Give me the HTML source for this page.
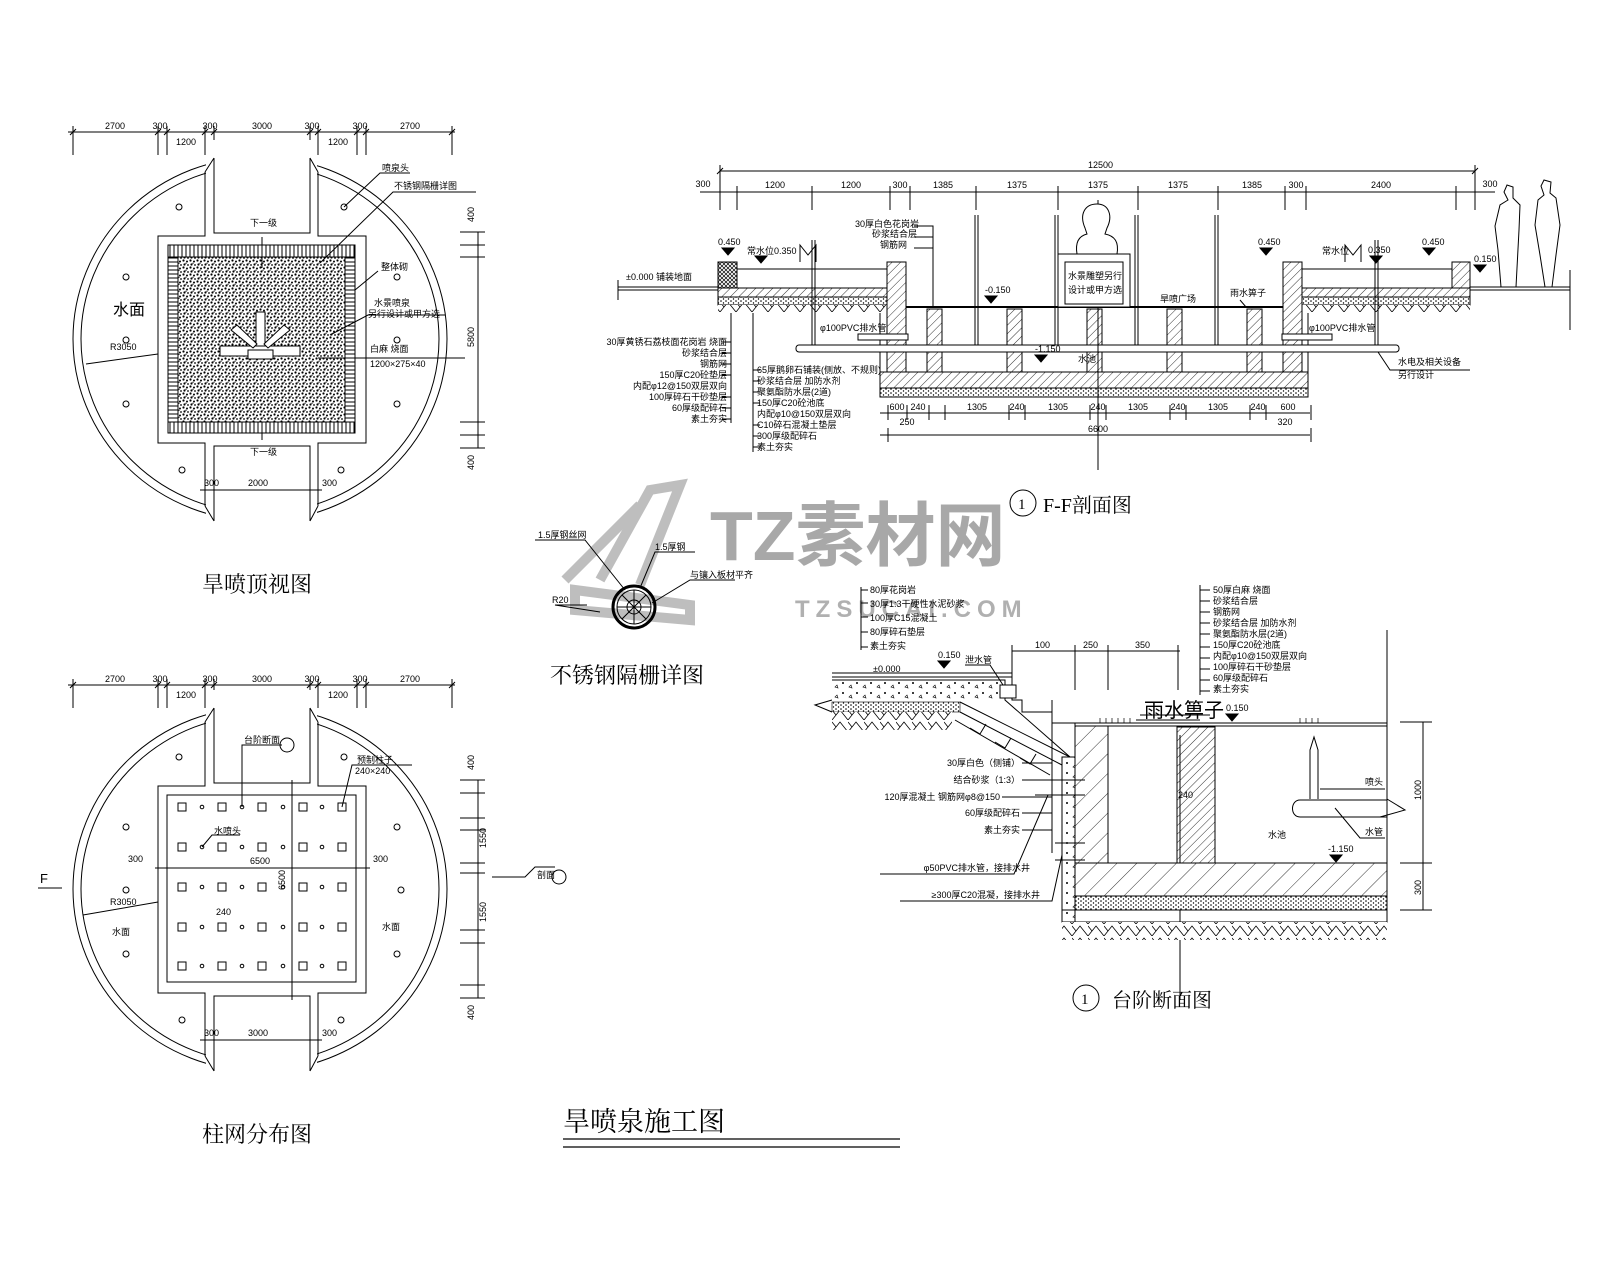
<!DOCTYPE html>
<html><head><meta charset="utf-8"><style>
html,body{margin:0;padding:0;background:#fff;}
svg{display:block;}
text{font-family:"Liberation Sans","Noto Sans CJK SC",sans-serif;fill:#000;}
.s{font-size:9px;}
.t{font-family:"Liberation Serif","Noto Serif CJK SC",serif;}
</style></head><body>
<svg width="1600" height="1280" viewBox="0 0 1600 1280" xmlns="http://www.w3.org/2000/svg" fill="none" stroke="#000" stroke-width="1">
<defs>
<pattern id="grav" width="7" height="7" patternUnits="userSpaceOnUse">
<rect width="7" height="7" fill="#fff" stroke="none"/>
<circle cx="1.5" cy="1.5" r="1.1" fill="#000" stroke="none"/><circle cx="5" cy="2.5" r="1" fill="#000" stroke="none"/>
<circle cx="2.5" cy="5.5" r="1.1" fill="#000" stroke="none"/><circle cx="6" cy="6" r=".9" fill="#000" stroke="none"/>
<circle cx="4" cy="4.2" r=".6" fill="#000" stroke="none"/>
</pattern>
<pattern id="vl" width="4" height="4" patternUnits="userSpaceOnUse"><rect width="4" height="4" fill="#fff" stroke="none"/><line x1="2" y1="0" x2="2" y2="4" stroke="#000"/></pattern>
<pattern id="hl" width="4" height="4" patternUnits="userSpaceOnUse"><rect width="4" height="4" fill="#fff" stroke="none"/><line x1="0" y1="2" x2="4" y2="2" stroke="#000"/></pattern>
<pattern id="hat" width="6" height="6" patternUnits="userSpaceOnUse" patternTransform="rotate(45)"><rect width="6" height="6" fill="#fff" stroke="none"/><line x1="0" y1="0" x2="0" y2="6" stroke="#000" stroke-width="0.8"/></pattern>
<pattern id="hat2" width="14" height="14" patternUnits="userSpaceOnUse" patternTransform="rotate(45)"><rect width="14" height="14" fill="#fff" stroke="none"/><line x1="0" y1="0" x2="0" y2="14" stroke="#000" stroke-width="0.8"/></pattern>
<pattern id="xh" width="4" height="4" patternUnits="userSpaceOnUse"><rect width="4" height="4" fill="#fff" stroke="none"/><path d="M0 0L4 4M4 0L0 4" stroke="#000" stroke-width="0.7"/></pattern>
<pattern id="soil" width="16" height="12" patternUnits="userSpaceOnUse"><rect width="16" height="12" fill="#fff" stroke="none"/><path d="M0 12L8 2L16 12M0 2L4 7" stroke="#000" stroke-width="0.8"/></pattern>
<pattern id="conc" width="14" height="10" patternUnits="userSpaceOnUse"><rect width="14" height="10" fill="#fff" stroke="none"/><circle cx="3" cy="3" r="1" fill="#000" stroke="none"/><path d="M9 7l2-2l1 3z" stroke="#000" stroke-width="0.6"/></pattern>
<pattern id="fine" width="5" height="4" patternUnits="userSpaceOnUse"><rect width="5" height="4" fill="#fff" stroke="none"/><circle cx="1" cy="1" r=".8" fill="#000" stroke="none"/><circle cx="3.5" cy="3" r=".7" fill="#000" stroke="none"/></pattern>
</defs>

<!-- ============ TOP PLAN 旱喷顶视图 ============ -->
<g id="plan1">
<line x1="68" y1="132" x2="455" y2="132"/>
<g stroke-width="1">
<path d="M73 126V155M158 126V155M167 126V155M205 126V155M214 126V155M310 126V155M318 126V155M357 126V155M366 126V155M452 126V155"/>
<path d="M70 135l6-6M155 135l6-6M164 135l6-6M202 135l6-6M211 135l6-6M307 135l6-6M315 135l6-6M354 135l6-6M363 135l6-6M449 135l6-6"/>
</g>
<g class="s" text-anchor="middle" stroke="none">
<text x="115" y="129">2700</text><text x="160" y="129">300</text><text x="210" y="129">300</text><text x="262" y="129">3000</text><text x="312" y="129">300</text><text x="360" y="129">300</text><text x="410" y="129">2700</text>
<text x="186" y="145">1200</text><text x="338" y="145">1200</text>
</g>
<ellipse cx="260" cy="339" rx="187" ry="182"/>
<ellipse cx="260" cy="339" rx="179" ry="174"/>
<rect x="206" y="140" width="111" height="96" fill="#fff" stroke="none"/>
<rect x="206" y="443" width="111" height="96" fill="#fff" stroke="none"/>
<path d="M214 158V233H310V158M205 172V236H158V443H205V506M214 521V446H310V521M318 506V443H366V236H318V172"/>
<path d="M205 172L214 158M318 172L310 158M205 506L214 521M318 506L310 521"/>
<rect x="168" y="245" width="187" height="188" fill="url(#vl)"/>
<rect x="178" y="257" width="167" height="165" fill="url(#grav)" stroke="#000"/>
<rect x="168" y="257" width="10" height="165" fill="url(#hl)"/>
<rect x="345" y="257" width="10" height="165" fill="url(#hl)"/>
<g fill="#fff">
<rect x="220" y="346" width="80" height="10"/><rect x="248" y="350" width="25" height="9"/>
<rect x="256" y="312" width="9" height="34"/>
<path d="M231 330l22 18l4-4l-20-19zM290 330l-22 18l-4-4l20-19z"/>
</g>
<g>
<circle cx="179" cy="207" r="3"/><circle cx="126" cy="277" r="3"/><circle cx="126" cy="340" r="3"/><circle cx="126" cy="404" r="3"/><circle cx="182" cy="470" r="3"/>
<circle cx="344" cy="207" r="3"/><circle cx="397" cy="277" r="3"/><circle cx="397" cy="340" r="3"/><circle cx="397" cy="404" r="3"/><circle cx="341" cy="470" r="3"/>
</g>
<path d="M344 207L380 173H410M320 263L393 192H476M355 290L378 271M330 335L368 315H445M318 358L465 358M262 237V268M262 440V422M158 354L86 364"/>
<g class="s" stroke="none">
<text x="382" y="171">喷泉头</text><text x="394" y="189">不锈钢隔栅详图</text><text x="381" y="270">整体砌</text>
<text x="374" y="306">水景喷泉</text><text x="368" y="317">另行设计或甲方选</text>
<text x="370" y="352">白麻 烧面</text><text x="370" y="367">1200×275×40</text>
<text x="250" y="226">下一级</text><text x="250" y="455">下一级</text>
<text x="110" y="350">R3050</text>
</g>
<text x="113" y="315" style="font-size:16px" stroke="none">水面</text>
<path d="M478 232V448M460 232H485M460 245H485M460 257H485M460 422H485M460 435H485M460 448H485"/>
<g class="s" stroke="none">
<text transform="translate(474 347) rotate(-90)">5800</text>
<text transform="translate(474 222) rotate(-90)">400</text>
<text transform="translate(474 470) rotate(-90)">400</text>
<text x="204" y="486">300</text><text x="248" y="486">2000</text><text x="322" y="486">300</text>
</g>
<path d="M200 490H322M205 486V495M214 486V495M310 486V495M318 486V495"/>
<text x="202" y="592" class="t" style="font-size:22px" stroke="none">旱喷顶视图</text>
</g>

<!-- ============ BOTTOM PLAN 柱网分布图 ============ -->
<g id="plan2">
<line x1="68" y1="685" x2="455" y2="685"/>
<path d="M73 679V708M158 679V708M167 679V708M205 679V708M214 679V708M310 679V708M318 679V708M357 679V708M366 679V708M452 679V708"/>
<path d="M70 688l6-6M155 688l6-6M164 688l6-6M202 688l6-6M211 688l6-6M307 688l6-6M315 688l6-6M354 688l6-6M363 688l6-6M449 688l6-6"/>
<g class="s" text-anchor="middle" stroke="none">
<text x="115" y="682">2700</text><text x="160" y="682">300</text><text x="210" y="682">300</text><text x="262" y="682">3000</text><text x="312" y="682">300</text><text x="360" y="682">300</text><text x="410" y="682">2700</text>
<text x="186" y="698">1200</text><text x="338" y="698">1200</text>
</g>
<ellipse cx="260" cy="889" rx="187" ry="182"/>
<ellipse cx="260" cy="889" rx="179" ry="174"/>
<rect x="206" y="690" width="111" height="96" fill="#fff" stroke="none"/>
<rect x="206" y="993" width="111" height="96" fill="#fff" stroke="none"/>
<path d="M214 708V783H310V708M205 722V786H158V993H205V1056M214 1071V996H310V1071M318 1056V993H366V786H318V722"/>
<path d="M205 722L214 708M318 722L310 708M205 1056L214 1071M318 1056L310 1071"/>
<rect x="167" y="795" width="189" height="187"/>
<path d="M167 868H356M292 795V982M155 868H370M292 780V1000"/>
<g>
<g id="r1">
<rect x="178" y="803" width="8" height="8"/><circle cx="202" cy="807" r="1.8"/><rect x="218" y="803" width="8" height="8"/><circle cx="242" cy="807" r="1.8"/><rect x="258" y="803" width="8" height="8"/><circle cx="283" cy="807" r="1.8"/><rect x="299" y="803" width="8" height="8"/><circle cx="322" cy="807" r="1.8"/><rect x="338" y="803" width="8" height="8"/>
</g>
<use href="#r1" y="40"/><use href="#r1" y="80"/><use href="#r1" y="120"/><use href="#r1" y="159"/>
</g>
<g>
<circle cx="179" cy="757" r="3"/><circle cx="126" cy="827" r="3"/><circle cx="126" cy="890" r="3"/><circle cx="126" cy="954" r="3"/><circle cx="182" cy="1020" r="3"/>
<circle cx="344" cy="757" r="3"/><circle cx="397" cy="827" r="3"/><circle cx="401" cy="890" r="3"/><circle cx="397" cy="954" r="3"/><circle cx="341" cy="1020" r="3"/>
</g>
<path d="M242 807V745H282M342 807L352 765H412M202 847L212 835H240M158 902L83 915M38 888H62"/>
<circle cx="287" cy="745" r="7"/>
<g class="s" stroke="none">
<text x="244" y="743">台阶断面</text><text x="357" y="763">预制柱子</text><text x="355" y="774">240×240</text>
<text x="214" y="834">水喷头</text><text x="128" y="862">300</text><text x="250" y="864">6500</text><text x="373" y="862">300</text>
<text x="110" y="905">R3050</text><text x="112" y="935">水面</text><text x="382" y="930">水面</text>
<text x="216" y="915">240</text><text x="537" y="878">剖面</text>
<text transform="translate(285 890) rotate(-90)">6500</text>
<text x="204" y="1036">300</text><text x="248" y="1036">3000</text><text x="322" y="1036">300</text>
</g>
<text x="40" y="883" style="font-size:13px" stroke="none">F</text>
<path d="M492 877H525L535 867H555"/><circle cx="559" cy="877" r="7"/>
<path d="M478 780V998M460 780H485M460 793H485M460 818H485M460 830H485M460 863H485M460 873H485M460 930H485M460 943H485M460 985H485M460 998H485"/>
<g class="s" stroke="none">
<text transform="translate(474 770) rotate(-90)">400</text><text transform="translate(486 848) rotate(-90)">1550</text><text transform="translate(486 922) rotate(-90)">1550</text><text transform="translate(474 1020) rotate(-90)">400</text>
</g>
<path d="M200 1040H322M205 1036V1045M214 1036V1045M310 1036V1045M318 1036V1045"/>
<text x="202" y="1142" class="t" style="font-size:22px" stroke="none">柱网分布图</text>
</g>

<!-- ============ WATERMARK ============ -->
<g stroke="#b8b8b8" stroke-width="10" fill="none" opacity="0.9">
<path d="M575 590L690 605L690 620L575 610Z"/><path d="M600 580L650 490L680 485L640 585"/><path d="M565 580L640 505"/>
</g>
<text x="710" y="560" style="font-size:70px;font-weight:bold;fill:#a8a8a8" stroke="none">TZ素材网</text>
<text x="795" y="617" style="font-size:24px;font-weight:bold;fill:#b0b0b0;letter-spacing:6px" stroke="none">TZSUCAI.COM</text>

<!-- ============ GRILLE DETAIL ============ -->
<circle cx="634" cy="607" r="21" stroke-width="3"/>
<circle cx="634" cy="607" r="17"/><circle cx="634" cy="607" r="7"/>
<path d="M617 607H651M634 590V624M622 595L646 619M646 595L622 619"/>
<path d="M535 540H585L625 590M640 588L655 552H695M652 603L690 580H735M600 612L555 605H587"/>
<g class="s" stroke="none"><text x="538" y="538">1.5厚钢丝网</text><text x="655" y="550">1.5厚钢</text><text x="690" y="578">与镶入板材平齐</text><text x="552" y="603">R20</text></g>
<text x="550" y="683" class="t" style="font-size:22px" stroke="none">不锈钢隔栅详图</text>

<text x="563" y="1131" class="t" style="font-size:27px" stroke="none">旱喷泉施工图</text>
<path d="M563 1139H900M563 1147H900" stroke-width="1.3"/>

<!-- ============ F-F SECTION ============ -->
<g id="ff">
<path d="M720 171H1475M720 165V190M1475 165V190M717 174l6-6M1472 174l6-6"/>
<text x="1088" y="168" class="s" stroke="none">12500</text>
<path d="M700 192H1495"/>
<path d="M720 186V210M737 186V210M812 186V210M890 186V210M910 186V210M976 186V210M1058 186V210M1138 186V210M1218 186V210M1285 186V210M1306 186V210M1456 186V210M1475 186V210"/>
<g class="s" stroke="none" text-anchor="middle">
<text x="703" y="187">300</text><text x="775" y="188">1200</text><text x="851" y="188">1200</text><text x="900" y="188">300</text><text x="943" y="188">1385</text><text x="1017" y="188">1375</text><text x="1098" y="188">1375</text><text x="1178" y="188">1375</text><text x="1252" y="188">1385</text><text x="1296" y="188">300</text><text x="1381" y="188">2400</text><text x="1490" y="187">300</text>
</g>
<path d="M618 287H720M618 290H720M1470 287H1570M1470 290H1570"/>
<path d="M618 280V300M1570 270V330"/>
<rect x="718" y="262" width="19" height="26" fill="url(#xh)"/>
<path d="M737 269H887M737 288H887"/>
<rect x="718" y="288" width="169" height="9" fill="url(#hat)"/>
<rect x="718" y="297" width="169" height="8" fill="url(#fine)"/>
<rect x="718" y="305" width="169" height="8" fill="url(#soil)" stroke="none"/>
<rect x="1452" y="262" width="18" height="26" fill="url(#hat)"/>
<path d="M1302 269H1452M1302 288H1452"/>
<rect x="1302" y="288" width="168" height="9" fill="url(#hat)"/>
<rect x="1302" y="297" width="168" height="8" fill="url(#fine)"/>
<rect x="1302" y="305" width="168" height="8" fill="url(#soil)" stroke="none"/>
<rect x="880" y="372" width="428" height="16" fill="url(#hat)"/>
<rect x="880" y="388" width="428" height="9" fill="url(#fine)"/>
<path d="M880 313V397H1308V313M898 320V372H1290V320"/>
<rect x="887" y="262" width="19" height="110" fill="url(#hat)"/>
<rect x="1283" y="262" width="19" height="110" fill="url(#hat)"/>
<path d="M906 307H1283" stroke-width="2"/>
<g fill="url(#hat)"><rect x="927" y="309" width="15" height="63"/><rect x="1007" y="309" width="15" height="63"/><rect x="1087" y="309" width="15" height="63"/><rect x="1167" y="309" width="15" height="63"/><rect x="1247" y="309" width="15" height="63"/></g>
<rect x="796" y="345" width="603" height="7" rx="3" fill="#fff"/>
<path d="M975 215V345M978 215V345M1055 215V345M1058 215V345M1135 215V345M1138 215V345M1215 215V345M1218 215V345M812 240V345M815 240V345M1375 240V345M1378 240V345"/>
<path d="M1098 200V470"/>
<rect x="858" y="334" width="50" height="6" fill="#fff"/><rect x="1282" y="334" width="50" height="6" fill="#fff"/>
<rect x="1058" y="254" width="72" height="53" fill="#fff"/>
<path d="M1065 262h58v42h-58z"/>
<path d="M1085 228c-6-14 0-24 12-24c12 0 16 12 10 24l-2 6c10 2 14 8 12 20h-40c-2-12 2-18 10-20z" fill="#fff"/>
<g class="s" stroke="none"><text x="1068" y="279">水景雕塑另行</text><text x="1068" y="293">设计或甲方选</text></g>
<path d="M800 262V245L808 255L816 245V262M1345 262V245L1353 255L1361 245V262"/>
<g fill="#000"><path d="M722 248h12l-6 7zM755 256h12l-6 7zM985 296h12l-6 7zM1035 355h12l-6 7zM1260 248h12l-6 7zM1370 256h12l-6 7zM1423 248h12l-6 7zM1474 265h12l-6 7z"/></g>
<g class="s" stroke="none">
<text x="718" y="245">0.450</text><text x="747" y="254">常水位0.350</text><text x="985" y="293">-0.150</text><text x="1035" y="352">-1.150</text><text x="1078" y="362">水池</text>
<text x="1258" y="245">0.450</text><text x="1322" y="254">常水位</text><text x="1368" y="253">0.350</text><text x="1422" y="245">0.450</text><text x="1474" y="262">0.150</text>
<text x="626" y="280">±0.000 铺装地面</text><text x="1160" y="302">旱喷广场</text><text x="1230" y="296">雨水箅子</text>
<text x="820" y="331">φ100PVC排水管</text><text x="1309" y="331">φ100PVC排水管</text>
<text x="1398" y="365">水电及相关设备</text><text x="1398" y="378">另行设计</text>
<text x="855" y="227">30厚白色花岗岩</text><text x="872" y="237">砂浆结合层</text><text x="880" y="248">钢筋网</text>
</g>
<path d="M1378 352L1390 370H1470M1240 300L1246 307M914 226H933V307M914 237H933M914 248H933"/>
<path d="M731 313V423M753 313V452"/>
<g class="s" stroke="none" text-anchor="end">
<text x="727" y="345">30厚黄锈石荔枝面花岗岩 烧面</text><text x="727" y="356">砂浆结合层</text><text x="727" y="367">钢筋网</text><text x="727" y="378">150厚C20砼垫层</text><text x="727" y="389">内配φ12@150双层双向</text><text x="727" y="400">100厚碎石干砂垫层</text><text x="727" y="411">60厚级配碎石</text><text x="727" y="422">素土夯实</text>
</g>
<path d="M722 342H731M722 353H731M722 364H731M722 375H731M722 397H731M722 408H731M722 419H731"/>
<g class="s" stroke="none">
<text x="757" y="373">65厚鹅卵石铺装(侧放、不规则)</text><text x="757" y="384">砂浆结合层 加防水剂</text><text x="757" y="395">聚氨酯防水层(2道)</text><text x="757" y="406">150厚C20砼池底</text><text x="757" y="417">内配φ10@150双层双向</text><text x="757" y="428">C10碎石混凝土垫层</text><text x="757" y="439">300厚级配碎石</text><text x="757" y="450">素土夯实</text>
</g>
<path d="M753 370H760M753 381H760M753 392H760M753 403H760M753 425H760M753 436H760M753 447H760"/>
<path d="M880 413H1310M880 435H1310"/>
<path d="M888 405V420M907 405V420M929 405V420M945 405V420M1009 405V420M1025 405V420M1090 405V420M1106 405V420M1170 405V420M1186 405V420M1250 405V420M1266 405V420M1311 405V420M888 428V442M1311 428V442"/>
<g class="s" stroke="none" text-anchor="middle">
<text x="897" y="410">600</text><text x="918" y="410">240</text><text x="977" y="410">1305</text><text x="1017" y="410">240</text><text x="1058" y="410">1305</text><text x="1098" y="410">240</text><text x="1138" y="410">1305</text><text x="1178" y="410">240</text><text x="1218" y="410">1305</text><text x="1258" y="410">240</text><text x="1288" y="410">600</text>
<text x="907" y="425">250</text><text x="1285" y="425">320</text><text x="1098" y="432">6600</text>
</g>
<path d="M1501 287L1498 250L1495 226L1500 205L1508 200L1504 192L1507 185L1513 187L1513 198L1520 205L1519 230L1516 287M1545 287L1540 255L1535 225L1538 200L1544 195L1541 186L1544 180L1551 182L1550 193L1556 198L1560 225L1556 255L1552 287"/>
</g>
<circle cx="1023" cy="503" r="13"/>
<text x="1018" y="509" class="t" style="font-size:15px" stroke="none">1</text>
<text x="1043" y="512" class="t" style="font-size:20px" stroke="none">F-F剖面图</text>

<!-- ============ STEP SECTION 台阶断面图 ============ -->
<g id="step">
<path d="M861 587V650M861 590H868M861 603H868M861 617H868M861 632H868M861 647H868"/>
<g class="s" stroke="none">
<text x="870" y="593">80厚花岗岩</text><text x="870" y="607">30厚1:3干硬性水泥砂浆</text><text x="870" y="621">100厚C15混凝土</text><text x="870" y="635">80厚碎石垫层</text><text x="870" y="649">素土夯实</text>
</g>
<path d="M1200 585V695M1200 590H1210M1200 601H1210M1200 612H1210M1200 623H1210M1200 634H1210M1200 647H1210M1200 658H1210M1200 669H1210M1200 680H1210M1200 691H1210"/>
<g class="s" stroke="none">
<text x="1213" y="593">50厚白麻 烧面</text><text x="1213" y="604">砂浆结合层</text><text x="1213" y="615">钢筋网</text><text x="1213" y="626">砂浆结合层 加防水剂</text><text x="1213" y="637">聚氨酯防水层(2道)</text><text x="1213" y="648">150厚C20砼池底</text><text x="1213" y="659">内配φ10@150双层双向</text><text x="1213" y="670">100厚碎石干砂垫层</text><text x="1213" y="681">60厚级配碎石</text><text x="1213" y="692">素土夯实</text>
</g>
<path d="M1012 651H1180M1012 645V690M1075 645V690M1108 645V690M1178 645V690"/>
<g class="s" stroke="none"><text x="1035" y="648">100</text><text x="1083" y="648">250</text><text x="1135" y="648">350</text></g>
<path d="M832 673H1012M832 677H1012V700H1022V712H1052V723H1387"/>
<path d="M832 700L815 705L832 712"/>
<path d="M832 680H1005V700L1070 757V922H1387V630"/>
<rect x="832" y="682" width="172" height="20" fill="url(#conc)" stroke="none"/>
<rect x="832" y="702" width="128" height="10" fill="url(#fine)" stroke="#000" stroke-width="0.6"/>
<rect x="832" y="712" width="120" height="18" fill="url(#soil)" stroke="none"/>
<path d="M960 702L1070 757M960 712L1062 765M955 720L1050 775" />
<path d="M970 728l10 6l6-10M995 742l10 6l6-10M1020 758l10 6l6-10"/>
<rect x="1062" y="757" width="13" height="165" fill="url(#conc)"/>
<rect x="1075" y="726" width="33" height="137" fill="url(#hat2)"/>
<rect x="1177" y="727" width="38" height="136" fill="url(#hat)"/>
<path d="M1108 727V863M1075 723V726H1387M1180 735V1000"/>
<rect x="1075" y="863" width="312" height="33" fill="url(#hat2)"/>
<rect x="1075" y="896" width="312" height="14" fill="url(#fine)"/>
<rect x="1062" y="922" width="325" height="18" fill="url(#soil)" stroke="none"/>
<path d="M1062 910H1387M1062 922V915"/>
<path d="M1090 723h50M1140 715H1210" />
<g stroke-width="0.7"><path d="M1100 718v5M1106 718v5M1112 718v5M1118 718v5M1124 718v5M1130 718v5M1300 718v5M1306 718v5M1312 718v5M1318 718v5"/></g>
<rect x="1000" y="685" width="16" height="13" fill="#fff"/>
<path d="M1310 799V750L1314 737L1318 750V799"/>
<path d="M1387 800H1300C1290 800 1290 817 1300 817H1387M1387 799L1405 810L1380 817"/>
<path d="M1320 789H1385M1335 808L1360 838H1385"/>
<path d="M1423 722V910M1400 722H1432M1400 863H1432M1400 910H1432"/>
<g class="s" stroke="none">
<text x="1365" y="785">喷头</text><text x="1365" y="835">水管</text><text x="1268" y="838">水池</text>
<text transform="translate(1421 800) rotate(-90)">1000</text><text transform="translate(1421 895) rotate(-90)">300</text>
<text x="1178" y="798">240</text>
</g>
<g fill="#000"><path d="M938 661h12l-6 7zM1226 714h12l-6 7zM1330 855h12l-6 7z"/></g>
<g class="s" stroke="none"><text x="938" y="658">0.150</text><text x="1226" y="711">0.150</text><text x="1328" y="852">-1.150</text><text x="873" y="672">±0.000</text><text x="965" y="663">泄水管</text></g>
<path d="M965 665H990L1003 685"/>
<text x="1144" y="717" style="font-size:20px" stroke="none">雨水箅子</text>
<path d="M1136 720H1200"/>
<path d="M1052 700V853"/>
<g class="s" stroke="none" text-anchor="end">
<text x="1020" y="766">30厚白色（侧铺）</text><text x="1020" y="783">结合砂浆（1:3）</text><text x="1000" y="800">120厚混凝土 钢筋网φ8@150</text><text x="1020" y="816">60厚级配碎石</text><text x="1020" y="833">素土夯实</text>
<text x="1030" y="871">φ50PVC排水管，接排水井</text><text x="1040" y="898">≥300厚C20混凝，接排水井</text>
</g>
<path d="M1022 763H1052M1022 780H1052M1002 797H1052M1022 813H1052M1022 830H1052M880 874H1014L1048 795M900 901H1052L1062 855M1035 780H1085M1035 795H1085M1055 843H1085M1055 860H1085"/>
<circle cx="1086" cy="998" r="13"/>
<text x="1081" y="1004" class="t" style="font-size:15px" stroke="none">1</text>
<text x="1112" y="1007" class="t" style="font-size:20px" stroke="none">台阶断面图</text>
</g>
</svg>
</body></html>
